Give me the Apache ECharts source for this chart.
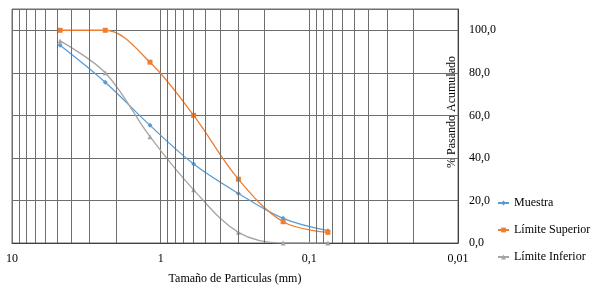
<!DOCTYPE html>
<html>
<head>
<meta charset="utf-8">
<script src="https://cdn.jsdelivr.net/npm/echarts@6/dist/echarts.min.js"></script>
<style>
html,body{margin:0;padding:0;background:#fff;}
#chart{width:593px;height:290px;}
</style>
</head>
<body>
<div id="chart"></div>
<script>
// Sieve sizes (mm)
const sizes = [4.75, 2.36, 1.18, 0.6, 0.3, 0.15, 0.075];
const muestra = [93.0, 75.6, 55.3, 37.1, 23.3, 11.6, 5.8];
const limiteSuperior = [100, 100, 85, 60, 30, 10, 5];
const limiteInferior = [95, 80, 50, 25, 5, 0, 0];
const seriesNames = ['Muestra', 'Límite Superior', 'Límite Inferior'];
const xTickLabels = {10: '10', 1: '1', 0.1: '0,1', 0.01: '0,01'};
const xTitle = 'Tamaño de Particulas (mm)';
const yTitle = '% Pasando Acumulado';

const FONT = '"Liberation Serif", "Times New Roman", serif';
const GRID = '#6e6e6e';

function pairs(vals) { return sizes.map((s, i) => [s, vals[i]]); }

// minor vertical grid positions (2..9 within each decade)
const minorLines = [];
[0.01, 0.1, 1].forEach(d => { for (let m = 2; m <= 9; m++) minorLines.push({xAxis: +(d * m).toPrecision(3)}); });

const chart = echarts.init(document.getElementById('chart'), null, {renderer: 'canvas'});
chart.setOption({
  animation: false,
  backgroundColor: '#fff',
  grid: {left: 12, right: 135, top: 9, bottom: 47, containLabel: false, show: true, borderColor: GRID, borderWidth: 1},
  xAxis: {
    type: 'log', logBase: 10, min: 0.01, max: 10, inverse: true,
    name: xTitle, nameLocation: 'middle', nameGap: 30,
    nameTextStyle: {fontFamily: FONT, fontSize: 12, color: '#000'},
    axisLine: {show: true, lineStyle: {color: '#404040', width: 1}},
    axisTick: {show: false},
    axisLabel: {fontFamily: FONT, fontSize: 12, color: '#000', margin: 10,
      formatter: v => xTickLabels[+(+v).toPrecision(3)] !== undefined ? xTickLabels[+(+v).toPrecision(3)] : ''},
    splitLine: {show: true, lineStyle: {color: GRID, width: 1}}
  },
  yAxis: {
    type: 'value', position: 'right', min: 0, max: 110, interval: 20,
    axisLine: {show: true, lineStyle: {color: '#404040', width: 1}},
    axisTick: {show: false},
    axisLabel: {fontFamily: FONT, fontSize: 12, color: '#000', margin: 11, showMaxLabel: false,
      formatter: v => v > 100 ? '' : v.toFixed(1).replace('.', ',')},
    splitLine: {show: true, lineStyle: {color: GRID, width: 1}}
  },
  legend: {
    data: seriesNames,
    orient: 'vertical', left: 497, top: 197, padding: 0,
    itemWidth: 11, itemHeight: 6, itemGap: 15,
    textStyle: {fontFamily: FONT, fontSize: 12, color: '#000'}
  },
  graphic: [{
    type: 'text', x: 452, y: 112, rotation: Math.PI / 2,
    style: {text: yTitle, font: '12px ' + FONT, fill: '#000', align: 'center', verticalAlign: 'middle'}
  }],
  series: [
    {
      type: 'line', name: '_grid', data: [], silent: true, z: 1,
      markLine: {silent: true, symbol: ['none', 'none'], label: {show: false},
        lineStyle: {color: GRID, type: 'solid', width: 1}, emphasis: {disabled: true},
        animation: false, data: minorLines}
    },
    {
      type: 'line', name: seriesNames[0], data: pairs(muestra), smooth: 0.35,
      color: '#5B9BD5', symbol: 'diamond', symbolSize: 5, z: 3,
      lineStyle: {width: 1.3, color: '#5B9BD5'}, itemStyle: {color: '#5B9BD5'}
    },
    {
      type: 'line', name: seriesNames[1], data: pairs(limiteSuperior), smooth: 0.35,
      color: '#ED7D31', symbol: 'rect', symbolSize: 5, z: 3,
      lineStyle: {width: 1.3, color: '#ED7D31'}, itemStyle: {color: '#ED7D31'}
    },
    {
      type: 'line', name: seriesNames[2], data: pairs(limiteInferior), smooth: 0.35,
      color: '#A5A5A5', symbol: 'triangle', symbolSize: 5, z: 3,
      lineStyle: {width: 1.3, color: '#A5A5A5'}, itemStyle: {color: '#A5A5A5'}
    }
  ]
});
</script>
</body>
</html>
